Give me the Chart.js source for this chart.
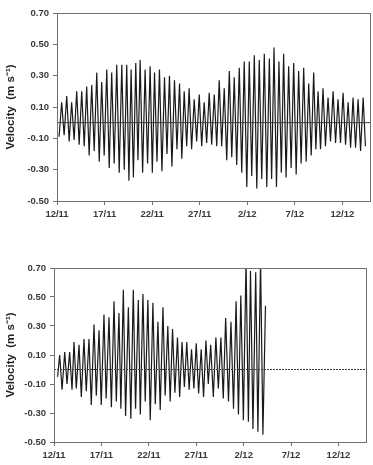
<!DOCTYPE html>
<html>
<head>
<meta charset="utf-8">
<script src="https://cdn.jsdelivr.net/npm/chart.js@4.4.1/dist/chart.umd.min.js"></script>
<style>
  html, body { margin: 0; padding: 0; background: #ffffff; }
  #wrap { position: relative; width: 373px; height: 465px; overflow: hidden; }
  canvas { position: absolute; left: 0; }
  #c1 { top: 0px; }
  #c2 { top: 240px; }
</style>
</head>
<body>
<div id="wrap">
  <canvas id="c1" width="373" height="225"></canvas>
  <canvas id="c2" width="373" height="225"></canvas>
</div>
<script>
// ---- Axis ticks ----
const tickDays   = [0, 5, 10, 15, 20, 25, 30];
const tickLabels = ['12/11', '17/11', '22/11', '27/11', '2/12', '7/12', '12/12'];
const velTicks   = [-0.5, -0.3, -0.1, 0.1, 0.3, 0.5, 0.7];

// ---- Top panel: peaks (flood) and troughs (ebb), day offset from 12/11 ----
const topPeakDay = [0.49, 1.02, 1.54, 2.07, 2.60, 3.12, 3.65, 4.18, 4.70, 5.23, 5.75, 6.28, 6.81, 7.33, 7.79, 8.28, 8.74, 9.26, 9.79, 10.25, 10.77, 11.30, 11.82, 12.35, 12.88, 13.37, 13.89, 14.42, 14.95, 15.47, 16.00, 16.53, 17.05, 17.58, 18.11, 18.63, 19.16, 19.68, 20.21, 20.74, 21.26, 21.79, 22.32, 22.81, 23.33, 23.82, 24.35, 24.88, 25.40, 25.93, 26.46, 26.98, 27.44, 27.96, 28.49, 29.02, 29.54, 30.07, 30.60, 31.12, 31.65, 32.18];
const topPeakVel = [0.13, 0.17, 0.13, 0.20, 0.20, 0.23, 0.24, 0.32, 0.26, 0.34, 0.32, 0.37, 0.37, 0.37, 0.34, 0.38, 0.40, 0.34, 0.36, 0.32, 0.34, 0.29, 0.30, 0.27, 0.25, 0.20, 0.22, 0.15, 0.18, 0.13, 0.19, 0.18, 0.27, 0.22, 0.33, 0.29, 0.35, 0.39, 0.39, 0.43, 0.40, 0.44, 0.41, 0.48, 0.39, 0.44, 0.36, 0.38, 0.33, 0.35, 0.25, 0.32, 0.20, 0.22, 0.16, 0.20, 0.15, 0.19, 0.13, 0.16, 0.15, 0.16];
const topTroughDay = [0.22, 0.75, 1.28, 1.80, 2.33, 2.86, 3.38, 3.91, 4.44, 4.96, 5.49, 6.01, 6.54, 7.07, 7.56, 8.03, 8.51, 9.00, 9.52, 10.02, 10.51, 11.03, 11.56, 12.08, 12.61, 13.12, 13.63, 14.15, 14.68, 15.21, 15.73, 16.26, 16.79, 17.31, 17.84, 18.37, 18.89, 19.42, 19.95, 20.47, 21.00, 21.52, 22.05, 22.56, 23.07, 23.58, 24.08, 24.61, 25.14, 25.66, 26.19, 26.72, 27.21, 27.70, 28.22, 28.75, 29.28, 29.80, 30.33, 30.86, 31.38, 31.91, 32.42];
const topTroughVel = [-0.09, -0.08, -0.12, -0.11, -0.14, -0.15, -0.21, -0.18, -0.25, -0.21, -0.29, -0.26, -0.32, -0.30, -0.37, -0.35, -0.24, -0.32, -0.26, -0.32, -0.25, -0.31, -0.20, -0.28, -0.17, -0.23, -0.15, -0.17, -0.12, -0.15, -0.13, -0.14, -0.15, -0.15, -0.24, -0.22, -0.27, -0.32, -0.41, -0.34, -0.42, -0.36, -0.41, -0.36, -0.41, -0.32, -0.35, -0.29, -0.33, -0.26, -0.25, -0.21, -0.17, -0.17, -0.15, -0.12, -0.13, -0.13, -0.14, -0.16, -0.16, -0.18, -0.15];

// ---- Bottom panel ----
const botPeakDay = [0.60, 1.13, 1.65, 2.11, 2.64, 3.16, 3.69, 4.22, 4.75, 5.27, 5.80, 6.33, 6.85, 7.31, 7.84, 8.36, 8.89, 9.38, 9.90, 10.43, 10.96, 11.49, 12.00, 12.50, 13.02, 13.50, 14.00, 14.50, 15.00, 15.52, 16.02, 16.52, 17.07, 17.60, 18.10, 18.66, 19.20, 19.70, 20.25, 20.72, 21.27, 21.78, 22.30];
const botPeakVel = [0.10, 0.12, 0.12, 0.19, 0.17, 0.21, 0.21, 0.31, 0.27, 0.38, 0.36, 0.47, 0.39, 0.55, 0.43, 0.55, 0.48, 0.52, 0.48, 0.46, 0.33, 0.43, 0.30, 0.28, 0.22, 0.19, 0.19, 0.14, 0.18, 0.14, 0.20, 0.17, 0.22, 0.22, 0.355, 0.33, 0.47, 0.51, 0.75, 0.68, 0.67, 0.75, 0.44];
const botTroughDay = [0.38, 0.85, 1.37, 1.90, 2.35, 2.88, 3.40, 3.93, 4.46, 4.98, 5.50, 6.05, 6.57, 7.05, 7.55, 8.10, 8.60, 9.10, 9.62, 10.15, 10.68, 11.20, 11.72, 12.25, 12.75, 13.25, 13.75, 14.25, 14.75, 15.25, 15.77, 16.27, 16.80, 17.33, 17.85, 18.40, 18.93, 19.45, 19.97, 20.50, 20.98, 21.50, 22.03];
const botTroughVel = [-0.05, -0.14, -0.10, -0.14, -0.13, -0.19, -0.15, -0.245, -0.18, -0.245, -0.20, -0.26, -0.22, -0.27, -0.32, -0.34, -0.27, -0.31, -0.22, -0.35, -0.24, -0.28, -0.18, -0.22, -0.16, -0.19, -0.12, -0.14, -0.13, -0.165, -0.19, -0.10, -0.19, -0.13, -0.20, -0.22, -0.27, -0.31, -0.35, -0.36, -0.41, -0.43, -0.45];

const X_MAX = 32.9;

function series(pd, pv, td, tv) {
  const pts = [];
  pd.forEach((d, i) => pts.push({ x: d, y: pv[i] }));
  td.forEach((d, i) => pts.push({ x: d, y: tv[i] }));
  pts.sort((a, b) => a.x - b.x);
  return pts;
}

const FONT = "'Liberation Sans', Arial, sans-serif";
const AX = '#707070';

const frame = {
  id: 'frame',
  afterDatasetsDraw(chart) {
    const a = chart.chartArea, c = chart.ctx;
    c.save();
    c.strokeStyle = AX;
    c.lineWidth = 1;
    c.strokeRect(Math.round(a.left) + 0.5, Math.round(a.top) + 0.5,
                 Math.round(a.right - a.left), Math.round(a.bottom - a.top));
    c.restore();
  }
};

function makeChart(id, data, zeroDash, pad, yW, xH) {
  return new Chart(document.getElementById(id), {
    type: 'line',
    data: {
      datasets: [
        {
          data: [{ x: 0, y: 0 }, { x: X_MAX, y: 0 }],
          borderColor: '#3a3a3a',
          borderWidth: 1,
          borderDash: zeroDash,
          pointRadius: 0
        },
        {
          data: data,
          borderColor: '#1a1a1a',
          borderWidth: 1.2,
          pointRadius: 0,
          tension: 0
        }
      ]
    },
    options: {
      responsive: false,
      animation: false,
      events: [],
      layout: { padding: pad },
      plugins: { legend: { display: false }, tooltip: { enabled: false } },
      scales: {
        x: {
          type: 'linear',
          min: 0,
          max: X_MAX,
          afterBuildTicks: s => { s.ticks = tickDays.map(v => ({ value: v })); },
          afterFit: s => { s.height = xH; },
          grid: { display: true, drawOnChartArea: false, drawTicks: true, tickLength: 4, color: AX },
          border: { display: true, color: AX },
          ticks: {
            callback: (v) => tickLabels[tickDays.indexOf(v)],
            font: { family: FONT, size: 9.5, weight: 'bold' },
            color: '#3a3a3a',
            padding: 4,
            maxRotation: 0,
            autoSkip: false
          }
        },
        y: {
          min: -0.5,
          max: 0.7,
          afterBuildTicks: s => { s.ticks = velTicks.map(v => ({ value: v })); },
          afterFit: s => { s.width = yW; },
          grid: { display: true, drawOnChartArea: false, drawTicks: true, tickLength: 4, color: AX },
          border: { display: true, color: AX },
          ticks: {
            callback: v => v.toFixed(2),
            font: { family: FONT, size: 9.5, weight: 'bold' },
            color: '#3a3a3a',
            padding: 4
          },
          title: {
            display: true,
            text: 'Velocity  (m s\u207B\u00B9)',
            font: { family: FONT, size: 11.5, weight: 'bold' },
            color: '#222',
            padding: { top: 4, bottom: 0 }
          }
        }
      }
    },
    plugins: [frame]
  });
}

makeChart('c1', series(topPeakDay, topPeakVel, topTroughDay, topTroughVel), [],
          { left: 0, top: 13, right: 3, bottom: 0 }, 57, 24);
makeChart('c2', series(botPeakDay, botPeakVel, botTroughDay, botTroughVel), [2, 1],
          { left: 0, top: 28, right: 7, bottom: 0 }, 54, 23);
</script>
</body>
</html>
